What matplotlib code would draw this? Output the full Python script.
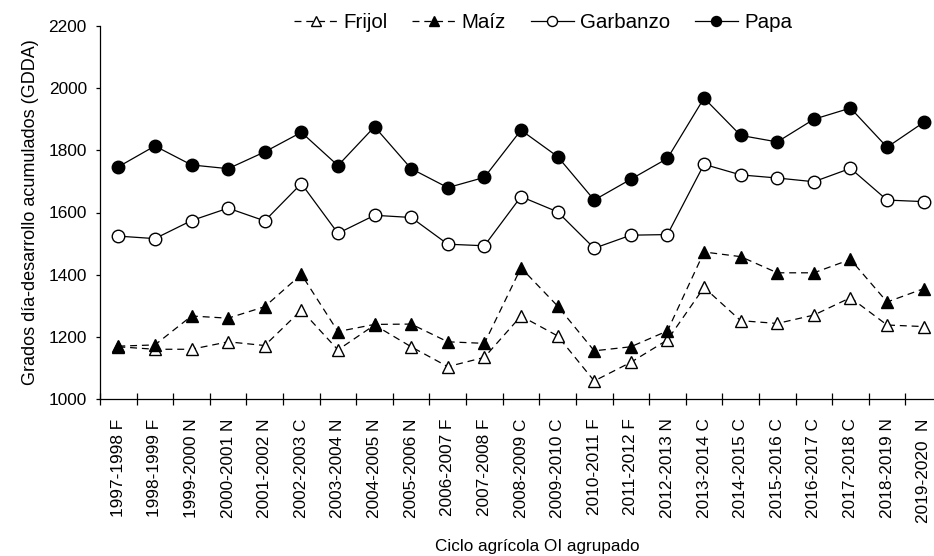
import matplotlib
matplotlib.use("Agg")
import matplotlib.pyplot as plt
import numpy as np

plt.rcParams['font.family'] = ['Liberation Sans', 'DejaVu Sans']
plt.rcParams['lines.scale_dashes'] = False

ciclos = ["1997-1998 F", "1998-1999 F", "1999-2000 N", "2000-2001 N", "2001-2002 N",
          "2002-2003 C", "2003-2004 N", "2004-2005 N", "2005-2006 N", "2006-2007 F",
          "2007-2008 F", "2008-2009 C", "2009-2010 C", "2010-2011 F", "2011-2012 F",
          "2012-2013 N", "2013-2014 C", "2014-2015 C", "2015-2016 C", "2016-2017 C",
          "2017-2018 C", "2018-2019 N", "2019-2020  N"]

frijol = [1168, 1160, 1160, 1184, 1172, 1286, 1158, 1238, 1168, 1104, 1134, 1267,
          1203, 1058, 1118, 1190, 1359, 1252, 1243, 1270, 1326, 1238, 1233]
maiz = [1170, 1174, 1267, 1260, 1297, 1401, 1217, 1240, 1241, 1184, 1179, 1422,
        1299, 1155, 1168, 1219, 1473, 1458, 1406, 1406, 1449, 1312, 1355]
garbanzo = [1524, 1516, 1574, 1614, 1573, 1693, 1533, 1591, 1584, 1498, 1493, 1651,
            1602, 1485, 1527, 1529, 1755, 1721, 1711, 1699, 1742, 1640, 1635]
papa = [1747, 1814, 1753, 1741, 1795, 1858, 1751, 1876, 1741, 1680, 1713, 1865,
        1780, 1640, 1707, 1774, 1968, 1848, 1827, 1900, 1936, 1810, 1890]

x = np.arange(len(ciclos))

fig = plt.figure(figsize=(9.34, 5.56), dpi=100)
ax = fig.add_axes([100 / 934, 1 - 399 / 556, 842 / 934, 373 / 556])

lw = 0.9
ms = 9
dash = (0, (5, 3.5))
ax.plot(x, frijol, linestyle=dash, color='black', lw=lw, marker='^', ms=ms,
        mfc='white', mec='black', mew=1.0, label='Frijol')
ax.plot(x, maiz, linestyle=dash, color='black', lw=lw, marker='^', ms=ms,
        mfc='black', mec='black', label='Maíz')
ax.plot(x, garbanzo, linestyle='-', color='black', lw=lw, marker='o', ms=ms,
        mfc='white', mec='black', mew=1.0, label='Garbanzo')
ax.plot(x, papa, linestyle='-', color='black', lw=lw, marker='o', ms=ms,
        mfc='black', mec='black', label='Papa')

ax.set_xlim(-0.5, len(ciclos) - 0.5)
ax.set_ylim(1000, 2200)
ax.set_yticks(np.arange(1000, 2201, 200))
ax.set_xticks(x)
ax.set_xticklabels(ciclos, rotation=90, fontsize=12.4)
ax.set_xticks(np.arange(-0.5, len(ciclos), 1), minor=True)
ax.tick_params(axis='x', which='major', length=0, pad=14)
ax.tick_params(axis='x', which='minor', direction='inout', length=9, width=0.9)
ax.tick_params(axis='y', direction='out', length=3, width=0.9, labelsize=12.4, pad=6.5)

for s in ['top', 'right']:
    ax.spines[s].set_visible(False)
for s in ['left', 'bottom']:
    ax.spines[s].set_linewidth(0.9)

ax.set_ylabel("Grados día-desarrollo acumulados (GDDA)", fontsize=13, labelpad=7)
fig.text(537 / 934, 1 - 547 / 556, "Ciclo agrícola OI agrupado", ha='center',
         va='center', fontsize=12.3)

fig.legend(loc='center', bbox_to_anchor=(543 / 934, 1 - 23 / 556), ncol=4,
           frameon=False, fontsize=14.8, handlelength=2.1, handletextpad=0.3,
           columnspacing=1.2, markerscale=0.8)

fig.savefig("out.png", dpi=100)
